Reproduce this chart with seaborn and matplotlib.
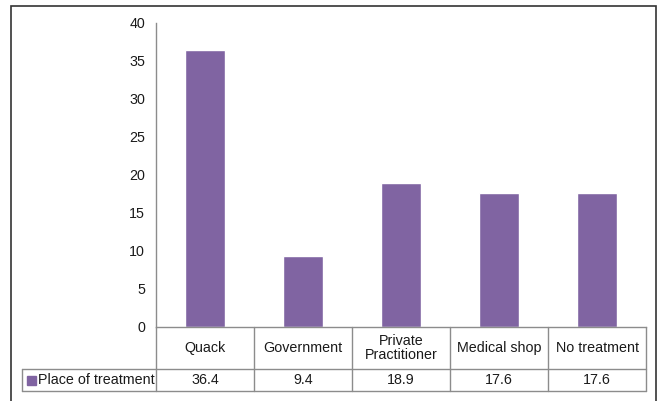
import numpy as np
import pandas as pd
import matplotlib
matplotlib.use("Agg")
import matplotlib.pyplot as plt
import seaborn as sns
from matplotlib.patches import Rectangle
from matplotlib.lines import Line2D
import matplotlib.transforms as mtransforms

# data
categories = ["Quack", "Government", "Private\nPractitioner", "Medical shop", "No treatment"]
values = [36.4, 9.4, 18.9, 17.6, 17.6]
value_labels = ["36.4", "9.4", "18.9", "17.6", "17.6"]
series_name = "Place of treatment"
y_ticks = [0, 5, 10, 15, 20, 25, 30, 35, 40]

bar_color = "#8064A2"
grid_color = "#8c8c8c"
text_color = "#1a1a1a"
fs = 10.3

sns.set_style("white")
plt.rcParams['font.family'] = ['Liberation Sans', 'DejaVu Sans']

W, H = 657, 401
fig = plt.figure(figsize=(W / 100, H / 100), dpi=100)

# plot area in pixels: x 156..646, y 23..327
ax = fig.add_axes([156 / W, 1 - 327 / H, 490 / W, 304 / H])

df = pd.DataFrame({"cat": categories, "val": values})
sns.barplot(data=df, x="cat", y="val", color=bar_color, width=0.41,
            saturation=1, ax=ax)

ax.set_xlim(-0.5, len(categories) - 0.5)
ax.set_ylim(0, 40)
ax.set_yticks(y_ticks)
ax.set_yticklabels([str(t) for t in y_ticks], fontsize=fs, color=text_color)
ax.tick_params(axis="y", length=0, pad=8)
ax.set_xticks([])
ax.set_xlabel("")
ax.set_ylabel("")
for s in ["top", "right"]:
    ax.spines[s].set_visible(False)
for s in ["left", "bottom"]:
    ax.spines[s].set_color(grid_color)
    ax.spines[s].set_linewidth(1)

# data table below the plot
trans = mtransforms.blended_transform_factory(ax.transData, ax.transAxes)
row1 = -42 / 304
row2 = -64 / 304
x_left = -0.5 - (156 - 22) / 98
x_right = len(categories) - 0.5

def tline(xs, ys):
    ax.add_line(Line2D(xs, ys, transform=trans, color=grid_color, lw=1, clip_on=False))

for i in range(len(categories) + 1):
    tline([i - 0.5, i - 0.5], [0, row2])
tline([x_left, x_right], [row1, row1])
tline([x_left, x_right], [row2, row2])
tline([x_left, x_left], [row1, row2])

for i, (c, v) in enumerate(zip(categories, value_labels)):
    ax.text(i, row1 / 2, c, transform=trans, ha="center", va="center",
            fontsize=fs, color=text_color, linespacing=1.05)
    ax.text(i, (row1 + row2) / 2, v, transform=trans, ha="center", va="center",
            fontsize=fs, color=text_color)

# legend key in table
key_y = 1 - 380 / H
fig.patches.append(Rectangle((27 / W, 1 - 385 / H), 9 / W, 9 / H,
                             transform=fig.transFigure, color=bar_color))
fig.text(38 / W, key_y, series_name, ha="left", va="center",
         fontsize=fs, color=text_color)

# outer chart border
fig.patches.append(Rectangle((11 / W, -0.05), 645 / W, 1 - 6 / H + 0.05,
                             transform=fig.transFigure, fill=False,
                             edgecolor="#333333", lw=1.2))

fig.savefig("out.png", dpi=100)
